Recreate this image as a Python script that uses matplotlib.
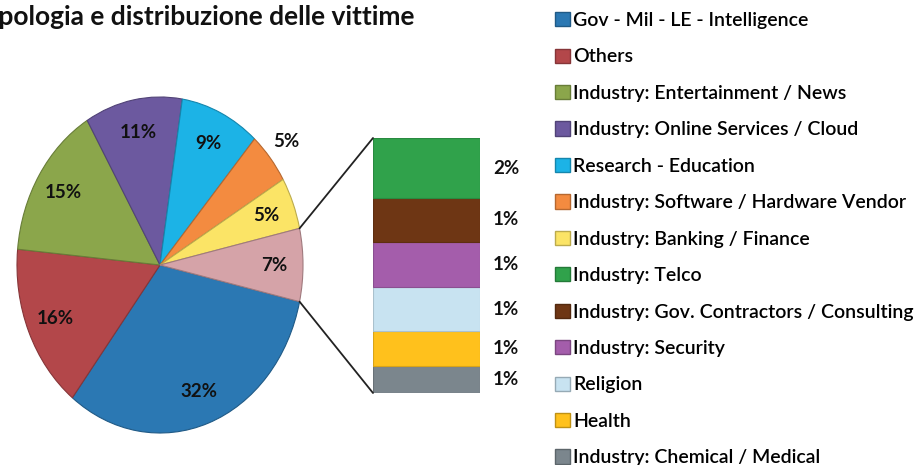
import matplotlib
matplotlib.use('Agg')
import numpy as np
import matplotlib.pyplot as plt
from matplotlib.patches import Patch, ConnectionPatch
from matplotlib.colors import to_rgb

plt.rcParams['font.family'] = ['Lato', 'DejaVu Sans']

# torta principale (l'ultima fetta raggruppa le voci minori)
pie_labels = ['Gov - Mil - LE - Intelligence', 'Others',
              'Industry: Entertainment / News', 'Industry: Online Services / Cloud',
              'Research - Education', 'Industry: Software / Hardware Vendor',
              'Industry: Banking / Finance', 'Altro']
pie_values = [32, 16, 15, 11, 9, 5, 5, 7]
pie_colors = ['#2B78B3', '#B3474A', '#8BA64B', '#6C599F', '#1CB3E6',
              '#F38B40', '#FBE466', '#D5A3A8']

# dettaglio della fetta "Altro"
bar_labels = ['Industry: Telco', 'Industry: Gov. Contractors / Consulting',
              'Industry: Security', 'Religion', 'Health',
              'Industry: Chemical / Medical']
bar_values = [1.65, 1.2, 1.25, 1.2, 0.95, 0.75]
bar_colors = ['#30A24B', '#6E3614', '#A45DAB', '#C8E3F1', '#FFC11C', '#7B868D']


def darker(c, f=0.75):
    r, g, b = to_rgb(c)
    return (r * f, g * f, b * f)


W, H = 914, 465
fig = plt.figure(figsize=(W / 100, H / 100), dpi=100)


def px_axes(x0, y0, x1, y1):
    return fig.add_axes([x0 / W, 1 - y1 / H, (x1 - x0) / W, (y1 - y0) / H])


# torta
ax_pie = px_axes(17, 97, 303, 433)
start = -pie_values[-1] / 100 * 360 / 2
wedges, texts, autotexts = ax_pie.pie(
    pie_values, colors=pie_colors, startangle=start, counterclock=False,
    autopct='%1.0f%%', pctdistance=0.8,
    wedgeprops=dict(linewidth=0.8),
    textprops=dict(fontsize=13.5, fontweight='bold', color='#111111'))
for w, c in zip(wedges, pie_colors):
    w.set_edgecolor(darker(c))
# etichetta della fetta arancione fuori dal cerchio
w = wedges[5]
mid = np.deg2rad((w.theta1 + w.theta2) / 2)
autotexts[5].set_position((1.15 * np.cos(mid), 1.15 * np.sin(mid)))
ax_pie.set_aspect('auto')
ax_pie.set_xlim(-1, 1)
ax_pie.set_ylim(-1, 1)
ax_pie.axis('off')

# barra impilata
ax_bar = px_axes(373, 138, 480, 393)
total = sum(bar_values)
bottom = 0
for v, c in zip(bar_values[::-1], bar_colors[::-1]):
    ax_bar.bar(0, v, bottom=bottom, width=1, color=c, edgecolor=darker(c, 0.85),
               linewidth=0.8)
    ax_bar.text(0.62, bottom + v / 2, f'{v:.0f}%', ha='left', va='center',
                fontsize=13.5, fontweight='bold', color='#111111')
    bottom += v
ax_bar.set_xlim(-0.5, 0.5)
ax_bar.set_ylim(0, total)
ax_bar.axis('off')

# linee di collegamento torta -> barra
th1 = np.deg2rad(wedges[-1].theta1)
th2 = np.deg2rad(wedges[-1].theta2)
for th, yb in [(max(th1, th2), total), (min(th1, th2), 0)]:
    con = ConnectionPatch(xyA=(np.cos(th), np.sin(th)), coordsA=ax_pie.transData,
                          xyB=(-0.5, yb), coordsB=ax_bar.transData,
                          color='#222222', linewidth=1.3)
    fig.add_artist(con)

# legenda
handles = [Patch(facecolor=c, edgecolor=darker(c)) for c in pie_colors[:-1] + bar_colors]
leg = fig.legend(handles, pie_labels[:-1] + bar_labels, loc='upper left',
                 bbox_to_anchor=(555 / W, 1 - 12 / H), frameon=False,
                 prop=dict(size=14, weight='semibold'),
                 handlelength=0.75, handleheight=0.75, handletextpad=0.2,
                 labelspacing=1.0, borderaxespad=0, borderpad=0)
for t in leg.get_texts():
    t.set_color('black')

fig.text(415 / W, 1 - 25 / H, 'Tipologia e distribuzione delle vittime',
         ha='right', va='baseline', fontsize=19, fontweight='bold', color='#111111')

fig.savefig('out.png', dpi=100)
